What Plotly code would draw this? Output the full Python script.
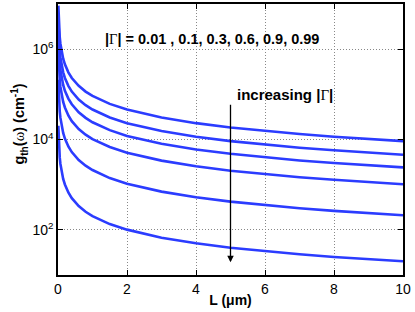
import plotly.graph_objects as go

L_um = [0.01, 0.02, 0.03, 0.05, 0.07, 0.1, 0.15, 0.2, 0.3, 0.4, 0.6, 0.8, 1, 1.5, 2, 3, 4, 5, 6, 7, 8, 9, 10]

g_001 = [9.21e6, 4.61e6, 3.07e6, 1.84e6, 1.32e6, 9.21e5, 6.14e5, 4.61e5, 3.07e5, 2.30e5, 1.54e5, 1.15e5, 9.21e4,
         6.14e4, 4.61e4, 3.07e4, 2.30e4, 1.84e4, 1.54e4, 1.32e4, 1.15e4, 1.02e4, 9.2e3]
g_01 = [4.61e6, 2.30e6, 1.54e6, 9.21e5, 6.58e5, 4.61e5, 3.07e5, 2.30e5, 1.54e5, 1.15e5, 7.68e4, 5.76e4, 4.61e4,
        3.07e4, 2.30e4, 1.54e4, 1.15e4, 9.21e3, 7.68e3, 6.58e3, 5.76e3, 5.12e3, 4.61e3]
g_03 = [2.41e6, 1.20e6, 8.03e5, 4.82e5, 3.44e5, 2.41e5, 1.61e5, 1.20e5, 8.03e4, 6.02e4, 4.01e4, 3.01e4, 2.41e4,
        1.61e4, 1.20e4, 8.03e3, 6.02e3, 4.82e3, 4.01e3, 3.44e3, 3.01e3, 2.68e3, 2.41e3]
g_06 = [1.02e6, 5.11e5, 3.41e5, 2.04e5, 1.46e5, 1.02e5, 6.81e4, 5.11e4, 3.41e4, 2.55e4, 1.70e4, 1.28e4, 1.02e4,
        6.81e3, 5.11e3, 3.41e3, 2.55e3, 2.04e3, 1.70e3, 1.46e3, 1.28e3, 1.14e3, 1.02e3]
g_09 = [2.11e5, 1.05e5, 7.02e4, 4.21e4, 3.01e4, 2.11e4, 1.40e4, 1.05e4, 7.02e3, 5.27e3, 3.51e3, 2.63e3, 2.11e3,
        1.40e3, 1.05e3, 702, 527, 421, 351, 301, 263, 234, 211]
g_099 = [2.01e4, 1.01e4, 6.70e3, 4.02e3, 2.87e3, 2.01e3, 1.34e3, 1.01e3, 670, 503, 335, 251, 201,
         134, 101, 67.0, 50.3, 40.2, 33.5, 28.7, 25.1, 22.3, 20.1]

series = {"0.01": g_001, "0.1": g_01, "0.3": g_03, "0.6": g_06, "0.9": g_09, "0.99": g_099}

x_ticks = [0, 2, 4, 6, 8, 10]
y_ticks = [1e2, 1e4, 1e6]
y_ticktext = ["10<sup>2</sup>", "10<sup>4</sup>", "10<sup>6</sup>"]

fig = go.Figure()
for name, vals in series.items():
    fig.add_trace(go.Scatter(x=L_um, y=vals, mode="lines", name=name,
                             line=dict(color="#2b3cff", width=2.6), showlegend=False))

FONT = "Liberation Sans, Arial, sans-serif"
SERIF = "<span style=\"font-family:'Liberation Serif', serif; font-weight:normal\">{}</span>"
GAMMA = SERIF.format("Γ")
OMEGA = SERIF.format("ω")

fig.update_layout(
    width=415, height=312,
    margin=dict(l=58, r=12, t=2, b=37),
    paper_bgcolor="white", plot_bgcolor="white",
    font=dict(family=FONT, size=14, color="black"),
)
fig.update_xaxes(range=[0, 10], tickvals=x_ticks, ticks="inside", ticklen=5, tickcolor="black",
                 showline=True, linecolor="black", linewidth=1.5, mirror="ticks",
                 showgrid=True, gridcolor="#888888", griddash="1px,2px", gridwidth=1, zeroline=False,
                 title=dict(text="<b>L (μm)</b>", standoff=0, font=dict(size=14)),
                 tickfont=dict(size=14))
fig.update_yaxes(type="log", range=[1, 7], tickvals=y_ticks, ticktext=y_ticktext,
                 ticks="inside", ticklen=5, tickcolor="black",
                 showline=True, linecolor="black", linewidth=1.5, mirror="ticks",
                 showgrid=True, gridcolor="#888888", griddash="1px,2px", gridwidth=1, zeroline=False,
                 tickfont=dict(size=14))

fig.add_annotation(x=-0.113, y=0.555, xref="paper", yref="paper", textangle=-90,
                   text="<b>g<sub>th</sub>(" + OMEGA + ") (cm<sup>-1</sup>)</b>",
                   showarrow=False, xanchor="center", yanchor="middle", font=dict(size=14.5, family=FONT))
fig.add_annotation(x=4.47, y=6.23, xref="x", yref="y",
                   text="<b>|" + GAMMA + "| = 0.01 , 0.1, 0.3, 0.6, 0.9, 0.99</b>",
                   showarrow=False, font=dict(size=14.5, family=FONT))
fig.add_annotation(x=5.12, y=5.0, xref="x", yref="y", text="<b>increasing |" + GAMMA + "|</b>",
                   showarrow=False, xanchor="left", font=dict(size=15, family=FONT))
fig.add_annotation(x=5.0, y=1.28, ax=5.0, ay=4.80, xref="x", yref="y", axref="x", ayref="y",
                   text="", showarrow=True, arrowhead=2, arrowsize=1, arrowwidth=1.3, arrowcolor="black")

fig.write_html("out.html", config={"displayModeBar": False},
               post_script="document.body.style.margin='0';document.body.style.padding='0';")
